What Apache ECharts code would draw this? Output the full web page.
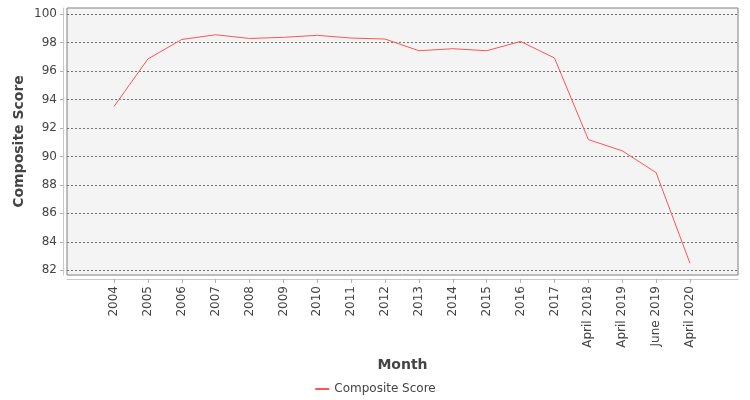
<!DOCTYPE html>
<html>
<head>
<meta charset="utf-8">
<script src="https://cdn.jsdelivr.net/npm/echarts@6/dist/echarts.min.js"></script>
<style>
    html, body { margin: 0; padding: 0; background: #ffffff; }
    #chart { width: 750px; height: 400px; }
</style>
</head>
<body>
<div id="chart"></div>
<script>
const months = ['2004', '2005', '2006', '2007', '2008', '2009', '2010', '2011', '2012',
    '2013', '2014', '2015', '2016', '2017', 'April 2018', 'April 2019', 'June 2019', 'April 2020'];
const scores = [93.5, 96.84, 98.21, 98.54, 98.28, 98.36, 98.5, 98.31, 98.24,
    97.42, 97.56, 97.42, 98.07, 96.91, 91.18, 90.39, 88.86, 82.49];
const scoreTicks = [82, 84, 86, 88, 90, 92, 94, 96, 98, 100];
const monthPositions = months.map((m, i) => i);

const fontFamily = 'DejaVu Sans';

let chart = echarts.init(document.getElementById('chart'));

let option = {
    animation: false,
    textStyle: { fontFamily: fontFamily },
    grid: {
        left: 67,
        right: 12,
        top: 8,
        bottom: 125,
        show: true,
        backgroundColor: '#f4f4f4',
        borderColor: '#808080',
        borderWidth: 1
    },
    legend: {
        bottom: 0,
        left: 'center',
        itemWidth: 14,
        itemHeight: 2,
        itemGap: 4,
        textStyle: { fontFamily: fontFamily, fontSize: 12, color: '#444' },
        data: ['Composite Score']
    },
    xAxis: {
        type: 'value',
        min: -1.387,
        max: 18.417,
        offset: 4,
        name: 'Month',
        nameLocation: 'middle',
        nameGap: 79,
        nameTextStyle: { fontFamily: fontFamily, fontSize: 14, fontWeight: 'bold', color: '#444' },
        axisLine: { show: true, onZero: false, lineStyle: { color: '#c8c8c8' } },
        axisTick: { show: true, length: 4, lineStyle: { color: '#b0b0b0' }, customValues: monthPositions },
        axisLabel: {
            rotate: 90,
            margin: 7,
            fontSize: 12,
            color: '#444',
            customValues: monthPositions,
            formatter: v => months[Math.round(v)]
        },
        splitLine: { show: false }
    },
    yAxis: {
        type: 'value',
        min: 81.67,
        max: 100.42,
        offset: 4,
        name: 'Composite Score',
        nameLocation: 'middle',
        nameGap: 37,
        nameMoveOverlap: false,
        nameTextStyle: { fontFamily: fontFamily, fontSize: 14, fontWeight: 'bold', color: '#444' },
        axisLine: { show: true, onZero: false, lineStyle: { color: '#c8c8c8' } },
        axisTick: { show: true, length: 3, lineStyle: { color: '#b0b0b0' }, customValues: scoreTicks },
        axisLabel: {
            margin: 6,
            fontSize: 12,
            color: '#444',
            customValues: scoreTicks
        },
        splitLine: { show: true, lineStyle: { color: '#707070', type: [2, 2], width: 1 } }
    },
    series: [
        {
            name: 'Composite Score',
            type: 'line',
            symbol: 'none',
            lineStyle: { color: '#ff5555', width: 1 },
            itemStyle: { color: '#ff5555' },
            data: monthPositions.map((p, i) => [p, scores[i]])
        }
    ]
};

chart.setOption(option);
</script>
</body>
</html>
